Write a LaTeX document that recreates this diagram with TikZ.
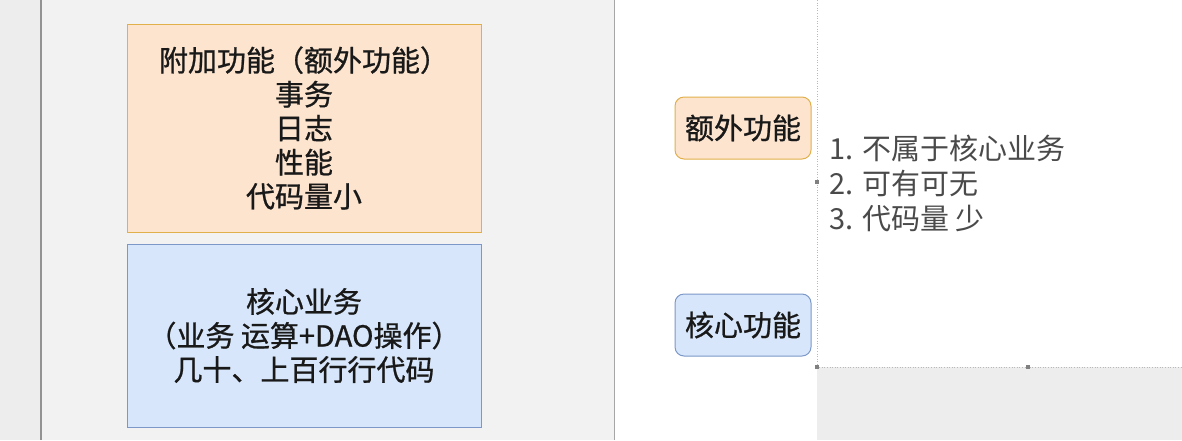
\documentclass[tikz,border=0pt]{standalone}
\usepackage{fontspec}
\setmainfont{Noto Sans CJK SC}
\newfontfamily\boxfont[FakeBold=0.8]{Noto Sans CJK SC}
\usepackage{xcolor}
\usetikzlibrary{positioning}

\definecolor{peachfill}{HTML}{FCE4CE}
\definecolor{peachline}{HTML}{E2B04A}
\definecolor{bluefill}{HTML}{D7E6FA}
\definecolor{blueline}{HTML}{7C98C8}
\definecolor{panelgray}{HTML}{F2F2F2}
\definecolor{sidegray}{HTML}{EDEDED}
\definecolor{listgray}{HTML}{4A4A4A}

\begin{document}
\begin{tikzpicture}[x=1pt, y=-1pt,
    font=\boxfont\fontsize{29pt}{34pt}\selectfont,
    featbox/.style={draw, line width=1pt, inner sep=0pt, align=center, text=black!90},
    tagbox/.style={draw, line width=1pt, rounded corners=9pt, inner sep=0pt,
        minimum width=136, minimum height=62, text=black!90}]

\useasboundingbox (0,0) rectangle (1182,440);

% Backgrounds
\fill[sidegray] (0,0) rectangle (41,440);
\fill[panelgray] (41,0) rectangle (614,440);
\fill[white] (614,0) rectangle (1182,440);
\fill[sidegray] (817,367) rectangle (1182,440);
\draw[gray!85, line width=1.2pt] (41,0) -- (41,440);
\draw[gray!70, line width=1pt] (614,0) -- (614,440);
\draw[gray!55, dotted, line width=0.6pt] (817,0) -- (817,367) -- (1182,367);
\foreach \hx/\hy in {817/182, 817/367, 1028/367}
    \fill[gray] (\hx-2,\hy-2) rectangle (\hx+2,\hy+2);

% Left boxes
\node[featbox, draw=peachline, fill=peachfill, minimum width=354, minimum height=208] (extra) at (304,128)
    {附加功能（额外功能）\\事务\\日志\\性能\\代码量小};
\node[featbox, draw=blueline, fill=bluefill, minimum width=354, minimum height=183] (core) at (304,335.5)
    {核心业务\\（业务 运算+DAO操作）\\几十、上百行行代码};

% Tags
\node[tagbox, draw=peachline, fill=peachfill] (extratag) at (743,128) {额外功能};
\node[tagbox, draw=blueline, fill=bluefill, below=134pt of extratag] (coretag) {核心功能};

% Notes
\node[anchor=west, align=left, inner sep=0pt, text=listgray, font=\normalfont\fontsize{29pt}{35pt}\selectfont] (notes) at (829,183)
    {1. 不属于核心业务\\2. 可有可无\\3. 代码量 少};

\end{tikzpicture}
\end{document}
